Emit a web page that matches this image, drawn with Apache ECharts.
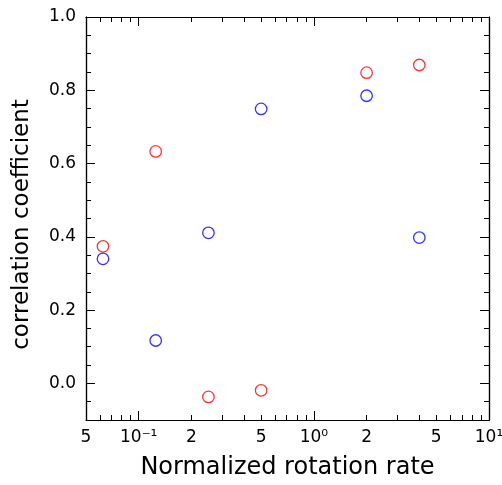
<!DOCTYPE html>
<html>
<head>
<meta charset="utf-8">
<script src="https://cdn.jsdelivr.net/npm/echarts@6/dist/echarts.min.js"></script>
<style>
  html, body { margin: 0; padding: 0; background: #fff; }
  #chart { width: 502px; height: 485px; }
</style>
</head>
<body>
<div id="chart"></div>
<script>
// data
const rotationRate = [0.0625, 0.125, 0.25, 0.5, 2, 4];
const corrRed = [0.374, 0.633, -0.037, -0.019, 0.848, 0.869];
const corrBlue = [0.340, 0.117, 0.411, 0.749, 0.785, 0.398];

// axis ticks
const xLabelVals = [0.05, 0.1, 0.2, 0.5, 1, 2, 5, 10];
const xLabelText = ['5', '10\u207B\u00B9', '2', '5', '10\u2070', '2', '5', '10\u00B9'];
const xMajorVals = [0.1, 1, 10];
const xMinorVals = [0.05, 0.06, 0.07, 0.08, 0.09, 0.2, 0.3, 0.4, 0.5, 0.6, 0.7, 0.8, 0.9,
                    2, 3, 4, 5, 6, 7, 8, 9];
const yMajorVals = [0, 0.2, 0.4, 0.6, 0.8, 1.0];
const yMinorVals = [-0.1, -0.05, 0, 0.05, 0.1, 0.15, 0.2, 0.25, 0.3, 0.35, 0.4, 0.45, 0.5,
                    0.55, 0.6, 0.65, 0.7, 0.75, 0.8, 0.85, 0.9, 0.95, 1.0];

const font = "'DejaVu Sans ExtraLight', 'DejaVu Sans'";
const xMin = 0.05, xMax = 10;
const lg = v => Math.log10(v);

// decorative x axis in log10 space, only for ticks and labels
function xDeco(pos, vals, len, labels) {
    return {
        type: 'value', position: pos, min: lg(xMin), max: lg(xMax),
        axisLine: { show: false, onZero: false },
        splitLine: { show: false },
        axisTick: { show: true, inside: true, length: len, customValues: vals.map(lg),
                    lineStyle: { color: '#000', width: 1 } },
        axisLabel: labels ? {
            show: true, customValues: xLabelVals.map(lg), margin: 9,
            fontFamily: font, fontSize: 17, color: '#000',
            formatter: function (v) {
                let best = 0;
                xLabelVals.forEach(function (t, i) {
                    if (Math.abs(lg(t) - v) < Math.abs(lg(xLabelVals[best]) - v)) best = i;
                });
                return xLabelText[best];
            }
        } : { show: false }
    };
}

function yDeco(pos, vals, len, labels) {
    return {
        type: 'value', position: pos, min: -0.1, max: 1.0,
        axisLine: { show: true, onZero: false, lineStyle: { color: '#000', width: 1.2 } },
        splitLine: { show: false },
        axisTick: { show: true, inside: true, length: len, customValues: vals,
                    lineStyle: { color: '#000', width: 1 } },
        axisLabel: labels ? {
            show: true, customValues: yMajorVals, margin: 10,
            fontFamily: font, fontSize: 17, color: '#000',
            formatter: v => v.toFixed(1)
        } : { show: false }
    };
}

const chart = echarts.init(document.getElementById('chart'), null, { renderer: 'canvas' });

const yMain = yDeco('left', yMajorVals, 9, true);
yMain.name = 'correlation coefficient';
yMain.nameLocation = 'middle';
yMain.nameGap = 52;
yMain.nameTextStyle = { fontFamily: font, fontSize: 23, color: '#000', padding: [0, 12, 0, 0] };

const xLabelAxis = xDeco('bottom', xMajorVals, 9, true);
xLabelAxis.name = 'Normalized rotation rate';
xLabelAxis.nameLocation = 'middle';
xLabelAxis.nameGap = 36;
xLabelAxis.nameTextStyle = { fontFamily: font, fontSize: 24, color: '#000' };

const topAxis = xDeco('top', xMajorVals, 9, false);
topAxis.axisLine = { show: true, onZero: false, lineStyle: { color: '#000', width: 1.2 } };

const option = {
    animation: false,
    grid: { left: 86, right: 13, top: 17, bottom: 65, outerBoundsMode: 'none' },
    xAxis: [
        {
            type: 'log', logBase: 10, min: xMin, max: xMax, position: 'bottom',
            axisLine: { show: true, onZero: false, lineStyle: { color: '#000', width: 1.2 } },
            axisTick: { show: false }, axisLabel: { show: false }, splitLine: { show: false }
        },
        xLabelAxis,
        xDeco('bottom', xMinorVals, 5, false),
        topAxis,
        xDeco('top', xMinorVals, 5, false)
    ],
    yAxis: [
        yMain,
        yDeco('left', yMinorVals, 5, false),
        yDeco('right', yMajorVals, 9, false),
        yDeco('right', yMinorVals, 5, false)
    ],
    series: [
        {
            name: 'red', type: 'scatter', xAxisIndex: 0, yAxisIndex: 0,
            symbol: 'circle', symbolSize: 11.5,
            itemStyle: { color: 'rgba(0,0,0,0)', borderColor: '#ff0000', borderWidth: 1.3 },
            data: rotationRate.map((x, i) => [x, corrRed[i]])
        },
        {
            name: 'blue', type: 'scatter', xAxisIndex: 0, yAxisIndex: 0,
            symbol: 'circle', symbolSize: 11.5,
            itemStyle: { color: 'rgba(0,0,0,0)', borderColor: '#0000ff', borderWidth: 1.3 },
            data: rotationRate.map((x, i) => [x, corrBlue[i]])
        }
    ]
};

chart.setOption(option);
</script>
</body>
</html>
